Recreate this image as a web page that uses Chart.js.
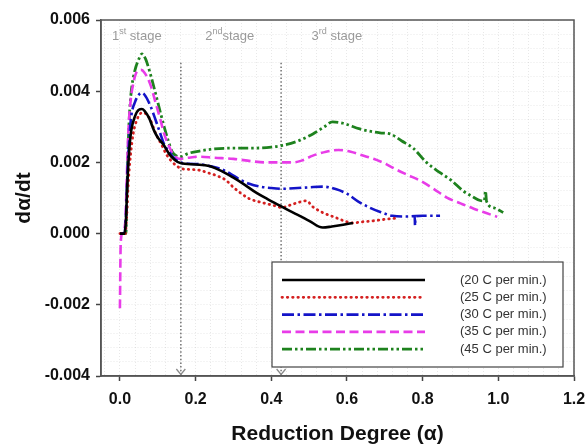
<!DOCTYPE html>
<html>
<head>
<meta charset="utf-8">
<script src="https://cdn.jsdelivr.net/npm/chart.js@4.4.1/dist/chart.umd.min.js"></script>
<style>
  html, body { margin: 0; padding: 0; background: #fff; }
  #wrap { width: 587px; height: 448px; }
</style>
</head>
<body>
<div id="wrap"><canvas id="rateChart" width="587" height="448"></canvas></div>
<script>
/*
  Data: reduction degree (alpha) vs d(alpha)/dt
*/
var seriesLabels = ['(20 C per min.)', '(25 C per min.)', '(30 C per min.)', '(35 C per min.)', '(45 C per min.)'];

var alpha20 = [0, 0.012, 0.016, 0.02, 0.025, 0.03, 0.04, 0.05, 0.058, 0.065, 0.077, 0.09, 0.1, 0.115, 0.13, 0.145, 0.16, 0.2, 0.236, 0.27, 0.3, 0.33, 0.36, 0.39, 0.42, 0.45, 0.475, 0.5, 0.536, 0.56, 0.59, 0.616];
var rate20 = [0, 0, 0.0004, 0.0015, 0.0024, 0.0029, 0.0033, 0.00348, 0.0035, 0.00345, 0.00325, 0.0029, 0.0027, 0.0025, 0.00224, 0.00207, 0.00198, 0.00194, 0.0019, 0.00175, 0.00157, 0.00137, 0.00115, 0.00097, 0.0008, 0.00063, 0.0005, 0.00036, 0.00017, 0.0002, 0.00025, 0.0003];

var alpha25 = [0, 0.014, 0.018, 0.022, 0.028, 0.035, 0.045, 0.055, 0.062, 0.07, 0.08, 0.095, 0.11, 0.122, 0.135, 0.15, 0.165, 0.19, 0.21, 0.235, 0.255, 0.28, 0.3, 0.32, 0.342, 0.365, 0.387, 0.41, 0.427, 0.45, 0.47, 0.493, 0.51, 0.536, 0.57, 0.6, 0.616, 0.64, 0.67, 0.7, 0.727];
var rate25 = [0, 0, 0.0005, 0.0014, 0.0022, 0.0028, 0.0032, 0.00338, 0.0034, 0.00335, 0.0032, 0.0028, 0.0025, 0.00224, 0.00205, 0.0019, 0.00182, 0.0018, 0.00178, 0.0017, 0.00163, 0.0015, 0.0013, 0.00113, 0.00098, 0.0009, 0.00084, 0.00078, 0.00073, 0.0008, 0.00087, 0.00092, 0.00075, 0.00059, 0.00045, 0.00033, 0.0003, 0.00033, 0.00036, 0.0004, 0.00043];

var alpha30 = [0, 0.012, 0.016, 0.02, 0.025, 0.03, 0.04, 0.05, 0.056, 0.065, 0.08, 0.095, 0.107, 0.117, 0.13, 0.145, 0.16, 0.183, 0.21, 0.236, 0.27, 0.3, 0.32, 0.342, 0.37, 0.4, 0.43, 0.47, 0.5, 0.536, 0.57, 0.6, 0.63, 0.66, 0.69, 0.72, 0.76, 0.779, 0.78, 0.781, 0.8, 0.846];
var rate30 = [0, 0, 0.0005, 0.0017, 0.0027, 0.0033, 0.0037, 0.0039, 0.00395, 0.0039, 0.0036, 0.00317, 0.0028, 0.0025, 0.0023, 0.0021, 0.002, 0.00196, 0.00195, 0.0019, 0.0018, 0.00163, 0.0015, 0.0014, 0.00132, 0.00128, 0.00126, 0.00128, 0.0013, 0.00132, 0.00125, 0.00112, 0.0009, 0.00073, 0.0006, 0.0005, 0.00048, 0.00049, 0.00022, 0.00049, 0.0005, 0.0005];

var alpha35 = [0, 0.002, 0.006, 0.014, 0.018, 0.022, 0.028, 0.035, 0.045, 0.056, 0.065, 0.08, 0.095, 0.107, 0.117, 0.128, 0.138, 0.15, 0.16, 0.18, 0.21, 0.25, 0.3, 0.35, 0.387, 0.42, 0.457, 0.48, 0.51, 0.545, 0.577, 0.61, 0.64, 0.67, 0.7, 0.73, 0.76, 0.793, 0.83, 0.864, 0.9, 0.935, 0.97, 0.997];
var rate35 = [-0.0021, -0.0003, 0, 0.0003, 0.0015, 0.0028, 0.0037, 0.0042, 0.00455, 0.0046, 0.00452, 0.0042, 0.00365, 0.0032, 0.0028, 0.0025, 0.00227, 0.00213, 0.0021, 0.00213, 0.00216, 0.00213, 0.0021, 0.00203, 0.002, 0.002, 0.002, 0.00205, 0.00219, 0.0023, 0.00235, 0.0023, 0.0022, 0.0021, 0.00197, 0.0018, 0.00165, 0.00149, 0.00125, 0.00101, 0.00085, 0.0007, 0.00057, 0.00047];

var alpha45 = [0, 0.016, 0.018, 0.021, 0.025, 0.03, 0.04, 0.05, 0.058, 0.068, 0.08, 0.095, 0.107, 0.117, 0.128, 0.138, 0.15, 0.16, 0.18, 0.21, 0.25, 0.3, 0.35, 0.4, 0.43, 0.47, 0.51, 0.54, 0.562, 0.59, 0.634, 0.687, 0.714, 0.745, 0.775, 0.81, 0.846, 0.875, 0.907, 0.93, 0.952, 0.963, 0.966, 0.969, 0.99, 1.013];
var rate45 = [0, 0, 0.0008, 0.0022, 0.0033, 0.004, 0.0046, 0.0049, 0.00505, 0.0049, 0.0045, 0.0039, 0.0034, 0.003, 0.0026, 0.0023, 0.00218, 0.00216, 0.00225, 0.00232, 0.00238, 0.0024, 0.0024, 0.00243, 0.00248, 0.0026, 0.0028, 0.003, 0.00314, 0.0031, 0.00294, 0.00283, 0.0028, 0.0026, 0.0024, 0.002, 0.00171, 0.0015, 0.0012, 0.00105, 0.00093, 0.00092, 0.0012, 0.0009, 0.00072, 0.00059];

// stage boundaries (dotted verticals) and their labels
var stageBounds = [0.161, 0.426];
var stageTop = 0.0048;
var stageNames = [['1', 'st', ' stage'], ['2', 'nd', 'stage'], ['3', 'rd', ' stage']];
var stageNameAt = [-0.021, 0.2255, 0.5066];

// axis ticks
var xTickValues = [0, 0.2, 0.4, 0.6, 0.8, 1.0, 1.2];
var xTickLabels = ['0.0', '0.2', '0.4', '0.6', '0.8', '1.0', '1.2'];
var yTickValues = [-0.004, -0.002, 0, 0.002, 0.004, 0.006];
var yTickLabels = ['-0.004', '-0.002', '0.000', '0.002', '0.004', '0.006'];

var FONT = '"Liberation Sans", Arial, Helvetica, sans-serif';
Chart.defaults.font.family = FONT;

var toPoints = (xs, ys) => xs.map((x, i) => ({x: x, y: ys[i]}));

// ticks every minor step, majors keep labels and tick marks
function buildTicks(start, end, step, majors) {
  var out = [];
  for (var i = 0; start + i * step <= end + 1e-9; i++) {
    var v = +(start + i * step).toFixed(6);
    out.push({value: v, major: majors.some(m => Math.abs(m - v) < 1e-9)});
  }
  return out;
}

var styles = [
  {color: '#000000', width: 2.6, dash: [], cap: 'butt'},
  {color: '#d42020', width: 2.8, dash: [0.5, 4.8], cap: 'round'},
  {color: '#1414c8', width: 2.6, dash: [12, 3.5, 2.5, 3.5], cap: 'butt'},
  {color: '#e83ce8', width: 2.6, dash: [9, 4.5], cap: 'butt'},
  {color: '#1e821e', width: 2.8, dash: [10, 3, 2.5, 3, 2.5, 3], cap: 'butt'}
];
var series = [[alpha20, rate20], [alpha25, rate25], [alpha30, rate30], [alpha35, rate35], [alpha45, rate45]];

var datasets = series.map((s, i) => ({
  label: seriesLabels[i],
  data: toPoints(s[0], s[1]),
  borderColor: styles[i].color,
  borderWidth: styles[i].width,
  borderDash: styles[i].dash,
  borderCapStyle: styles[i].cap,
  pointRadius: 0,
  cubicInterpolationMode: 'monotone',
  fill: false
}));

stageBounds.forEach(b => {
  datasets.push({
    label: 'stage',
    isStage: true,
    data: [{x: b, y: stageTop}, {x: b, y: yTickValues[0]}],
    borderColor: '#7a7a7a',
    borderWidth: 1.6,
    borderDash: [1.5, 2.2],
    pointRadius: 0,
    fill: false
  });
});

/*
  Plugins: stage labels + arrow heads, legend box, frame
*/
var stagePlugin = {
  id: 'stagePlugin',
  afterDatasetsDraw(chart) {
    var ctx = chart.ctx, xs = chart.scales.x, ys = chart.scales.y;
    ctx.save();
    ctx.strokeStyle = '#8a8a8a';
    ctx.lineWidth = 1.3;
    stageBounds.forEach(b => {
      var px = xs.getPixelForValue(b), py = ys.getPixelForValue(yTickValues[0]);
      ctx.beginPath();
      ctx.moveTo(px - 4.5, py - 7);
      ctx.lineTo(px, py - 1.5);
      ctx.lineTo(px + 4.5, py - 7);
      ctx.stroke();
    });
    ctx.fillStyle = '#9a9a9a';
    ctx.textBaseline = 'alphabetic';
    var base = chart.chartArea.top + 20;
    stageNames.forEach((n, i) => {
      var px = xs.getPixelForValue(stageNameAt[i]);
      ctx.font = '13px ' + FONT;
      ctx.fillText(n[0], px, base);
      px += ctx.measureText(n[0]).width;
      ctx.font = '9px ' + FONT;
      ctx.fillText(n[1], px, base - 6);
      px += ctx.measureText(n[1]).width;
      ctx.font = '13px ' + FONT;
      ctx.fillText(n[2], px, base);
    });
    ctx.restore();
  }
};

var legendBox = {
  id: 'legendBox',
  afterDatasetsDraw(chart) {
    var ctx = chart.ctx, area = chart.chartArea;
    var w = 291, h = 105;
    var x0 = area.right - 11 - w, y0 = area.bottom - 9 - h;
    ctx.save();
    ctx.fillStyle = '#ffffff';
    ctx.fillRect(x0, y0, w, h);
    ctx.strokeStyle = '#444';
    ctx.lineWidth = 1.2;
    ctx.strokeRect(x0, y0, w, h);
    chart.data.datasets.filter(d => !d.isStage).forEach((ds, i) => {
      var y = y0 + 18 + i * 17.3;
      ctx.strokeStyle = ds.borderColor;
      ctx.lineWidth = ds.borderWidth;
      ctx.setLineDash(ds.borderDash || []);
      ctx.lineCap = ds.borderCapStyle || 'butt';
      ctx.beginPath();
      ctx.moveTo(x0 + 10, y);
      ctx.lineTo(x0 + 153, y);
      ctx.stroke();
      ctx.setLineDash([]);
      ctx.fillStyle = '#333';
      ctx.font = '13px ' + FONT;
      ctx.textBaseline = 'middle';
      ctx.fillText(ds.label, x0 + 188, y);
    });
    ctx.restore();
  }
};

var framePlugin = {
  id: 'framePlugin',
  afterDraw(chart) {
    var ctx = chart.ctx, a = chart.chartArea;
    ctx.save();
    ctx.strokeStyle = '#555';
    ctx.lineWidth = 1.5;
    ctx.strokeRect(a.left, a.top, a.right - a.left, a.bottom - a.top);
    ctx.restore();
  }
};

var chartEl = document.getElementById('rateChart');

var rateChart = new Chart(chartEl, {
  type: 'line',
  data: { datasets: datasets },
  options: {
    responsive: false,
    animation: false,
    devicePixelRatio: 1,
    layout: { padding: { top: 20, right: 13, left: 0, bottom: 0 } },
    plugins: {
      legend: { display: false },
      tooltip: { enabled: false }
    },
    scales: {
      x: {
        type: 'linear',
        min: -0.05,
        max: 1.2,
        afterFit: s => { s.height = 72; s.paddingLeft = 0; s.paddingRight = 0; },
        afterBuildTicks: s => { s.ticks = buildTicks(-0.04, 1.2, 0.04, xTickValues); },
        ticks: {
          autoSkip: false,
          maxRotation: 0,
          padding: 9,
          color: '#111',
          font: { size: 16, weight: 'bold' },
          callback: (v, i, t) => t[i].major ? xTickLabels[xTickValues.findIndex(m => Math.abs(m - v) < 1e-9)] : ''
        },
        grid: {
          color: 'rgba(0,0,0,0.09)',
          lineWidth: 1,
          tickLength: 5,
          tickColor: c => (c.tick && c.tick.major) ? '#444' : 'rgba(0,0,0,0)',
          tickWidth: 1.5
        },
        border: { display: true, color: '#555', width: 1.5, dash: [1, 2] },
        title: {
          display: true,
          text: 'Reduction Degree (\u03b1)',
          color: '#111',
          font: { size: 21, weight: 'bold' },
          padding: { top: 0, bottom: 1 }
        }
      },
      y: {
        type: 'linear',
        min: -0.004,
        max: 0.006,
        afterFit: s => { s.width = 101; s.paddingTop = 0; s.paddingBottom = 0; },
        afterBuildTicks: s => { s.ticks = buildTicks(-0.004, 0.006, 0.0004, yTickValues); },
        ticks: {
          autoSkip: false,
          padding: 6,
          color: '#111',
          font: { size: 16, weight: 'bold' },
          callback: (v, i, t) => t[i].major ? yTickLabels[yTickValues.findIndex(m => Math.abs(m - v) < 1e-9)] : ''
        },
        grid: {
          color: 'rgba(0,0,0,0.09)',
          lineWidth: 1,
          tickLength: 5,
          tickColor: c => (c.tick && c.tick.major) ? '#444' : 'rgba(0,0,0,0)',
          tickWidth: 1.5
        },
        border: { display: true, color: '#555', width: 1.5, dash: [1, 2] },
        title: {
          display: true,
          text: 'd\u03b1/dt',
          color: '#111',
          font: { size: 21, weight: 'bold' },
          padding: { top: 12, bottom: 0 }
        }
      }
    }
  },
  plugins: [stagePlugin, legendBox, framePlugin]
});
</script>
</body>
</html>
